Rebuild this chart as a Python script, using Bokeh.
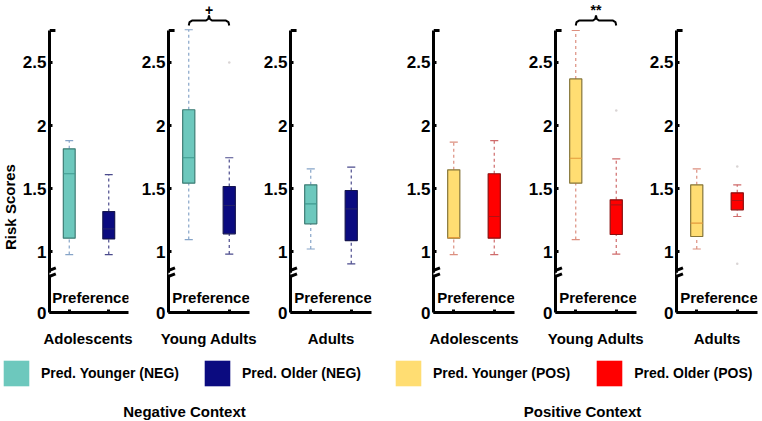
from bokeh.plotting import figure
from bokeh.layouts import row, column
from bokeh.models import (Range1d, FixedTicker, Legend, LegendItem, Arrow,
                          ColumnDataSource)
from bokeh.core.properties import value
from bokeh.embed import file_html
from bokeh.resources import INLINE

# ---------------- data ----------------
GROUPS = ["Adolescents", "Young Adults", "Adults"]
POSITIONS = [1, 2]  # Pred. Younger, Pred. Older within each panel
AXIS_LABEL = "Preference"
Y_LABEL = "Risk Scores"
Y_TICKS = [0.516, 1, 1.5, 2, 2.5]
Y_TICK_LABELS = ["0", "1", "1.5", "2", "2.5"]

NEG_YOUNGER_LO = [0.976, 1.095, 1.02]
NEG_YOUNGER_Q1 = [1.106, 1.542, 1.22]
NEG_YOUNGER_MED = [1.617, 1.744, 1.378]
NEG_YOUNGER_Q3 = [1.815, 2.125, 1.529]
NEG_YOUNGER_HI = [1.88, 2.76, 1.656]
NEG_YOUNGER_OUT = [[], [], []]

NEG_OLDER_LO = [0.976, 0.98, 0.902]
NEG_OLDER_Q1 = [1.10, 1.14, 1.087]
NEG_OLDER_MED = [1.18, 1.365, 1.339]
NEG_OLDER_Q3 = [1.317, 1.516, 1.484]
NEG_OLDER_HI = [1.61, 1.744, 1.669]
NEG_OLDER_OUT = [[], [2.5], []]

POS_YOUNGER_LO = [0.976, 1.095, 1.02]
POS_YOUNGER_Q1 = [1.106, 1.542, 1.119]
POS_YOUNGER_MED = [1.11, 1.74, 1.225]
POS_YOUNGER_Q3 = [1.648, 2.37, 1.529]
POS_YOUNGER_HI = [1.868, 2.754, 1.656]
POS_YOUNGER_OUT = [[], [], []]

POS_OLDER_LO = [0.976, 0.98, 1.278]
POS_OLDER_Q1 = [1.106, 1.135, 1.331]
POS_OLDER_MED = [1.278, 1.37, 1.405]
POS_OLDER_Q3 = [1.617, 1.41, 1.466]
POS_OLDER_HI = [1.88, 1.735, 1.529]
POS_OLDER_OUT = [[], [2.12], [1.675, 0.902]]

NEG_SIG = ["", "+", ""]
POS_SIG = ["", "**", ""]

LEGEND_NEG = ["Pred. Younger (NEG)", "Pred. Older (NEG)"]
LEGEND_POS = ["Pred. Younger (POS)", "Pred. Older (POS)"]
CONTEXT_TITLES = ["Negative Context", "Positive Context"]

# ---------------- styles / layout ----------------
FONT = "Liberation Sans"
STYLE = {
    "neg_y": dict(fill="#6dc8bd", edge="#3d7c74", med="#3f9a8f", whisk="#86a4c8"),
    "neg_o": dict(fill="#0b0b80", edge="#151550", med="#23236a", whisk="#4a4a8c"),
    "pos_y": dict(fill="#ffdd72", edge="#857539", med="#e39a3c", whisk="#dc8f7f"),
    "pos_o": dict(fill="#ff0000", edge="#8a0f0f", med="#b31212", whisk="#cf6b6b"),
}
BOX_W = 0.3
CAP_W = 0.2
FRAME_W = 81
FIG_H = 324
BOTTOM_BORDER = 12
LABEL_W = 19
WIDTHS = [111, 122, 143, 122, 121, 124]
LEFT_BORDERS = [28, 38, 38, 38, 38, 38]
Y_START, Y_END, Y_AXIS_TOP = 0.516, 2.992, 2.754


def draw_box(p, x, lo, q1, med, q3, hi, outs, st):
    src = ColumnDataSource(dict(x=[x], lo=[lo], q1=[q1], med=[med], q3=[q3], hi=[hi],
                                l=[x - BOX_W / 2], r=[x + BOX_W / 2],
                                cl=[x - CAP_W / 2], cr=[x + CAP_W / 2]))
    p.segment(x0="x", x1="x", y0="q3", y1="hi", source=src, line_color=st["whisk"],
              line_width=1.2, line_dash="3 3")
    p.segment(x0="x", x1="x", y0="lo", y1="q1", source=src, line_color=st["whisk"],
              line_width=1.2, line_dash="3 3")
    p.segment(x0="cl", x1="cr", y0="hi", y1="hi", source=src, line_color=st["whisk"], line_width=1.2)
    p.segment(x0="cl", x1="cr", y0="lo", y1="lo", source=src, line_color=st["whisk"], line_width=1.2)
    p.quad(left="l", right="r", bottom="q1", top="q3", source=src,
           fill_color=st["fill"], line_color=st["edge"], line_width=1.2)
    p.segment(x0="l", x1="r", y0="med", y1="med", source=src, line_color=st["med"], line_width=1.2)
    if outs:
        p.scatter(x=[x] * len(outs), y=outs, size=2.5, color="#d9d4d4", line_color=None)


def brace(p, x0, x1, y, label):
    xm = (x0 + x1) / 2
    xs = [x0, x0 + 0.02, x0 + 0.08, xm - 0.08, xm - 0.02, xm,
          xm + 0.02, xm + 0.08, x1 - 0.08, x1 - 0.02, x1]
    ys = [y - 0.04, y - 0.012, y, y, y + 0.012, y + 0.04,
          y + 0.012, y, y, y - 0.012, y - 0.04]
    p.line(xs, ys, line_color="black", line_width=2)
    p.text(x=[xm], y=[y + 0.085], text=[label], text_align="center",
           text_baseline="alphabetic", text_font=value(FONT), text_font_size="14px",
           text_font_style="bold", text_color="black")


def make_panel(i, data, st_y, st_o, sig):
    p = figure(width=WIDTHS[i], height=FIG_H, x_range=Range1d(0.5, 2.5),
               y_range=Range1d(Y_START, Y_END), output_backend="svg",
               toolbar_location=None, min_border_left=LEFT_BORDERS[i],
               min_border_right=WIDTHS[i] - LEFT_BORDERS[i] - FRAME_W,
               min_border_top=0, min_border_bottom=BOTTOM_BORDER)
    p.outline_line_color = None
    p.grid.visible = False
    p.background_fill_color = "white"
    p.border_fill_color = "white"

    ya = p.yaxis[0]
    ya.ticker = FixedTicker(ticks=Y_TICKS)
    ya.major_label_overrides = {t: s for t, s in zip(Y_TICKS, Y_TICK_LABELS)}
    ya.bounds = (Y_START, Y_AXIS_TOP)
    ya.axis_line_width = 3
    ya.major_tick_in = 3
    ya.major_tick_out = 0
    ya.major_tick_line_width = 3
    ya.minor_tick_line_color = None
    ya.major_label_standoff = 3
    ya.major_label_text_font = FONT
    ya.major_label_text_font_size = "17px"
    ya.major_label_text_font_style = "bold"
    ya.major_label_text_color = "black"

    xa = p.xaxis[0]
    xa.ticker = FixedTicker(ticks=POSITIONS)
    xa.major_label_overrides = {1: "", 2: ""}
    xa.major_label_text_font_size = "0px"
    xa.major_label_standoff = 0
    xa.axis_line_width = 3
    xa.major_tick_in = 3
    xa.major_tick_out = 0
    xa.major_tick_line_width = 3
    xa.minor_tick_line_color = None

    # top stub of the y axis
    p.segment(x0=[0.5], x1=[0.5 + 0.15], y0=[Y_AXIS_TOP], y1=[Y_AXIS_TOP],
              line_color="black", line_width=3)

    (ylo, yq1, ymed, yq3, yhi, yout), (olo, oq1, omed, oq3, ohi, oout) = data
    draw_box(p, POSITIONS[0], ylo, yq1, ymed, yq3, yhi, yout, st_y)
    draw_box(p, POSITIONS[1], olo, oq1, omed, oq3, ohi, oout, st_o)

    p.text(x=[1.55], y=[0.635], text=[AXIS_LABEL], text_align="center",
           text_baseline="middle", text_font=value(FONT), text_font_size="15px",
           text_font_style="bold", text_color="black")

    if sig:
        brace(p, POSITIONS[0], POSITIONS[1], 2.833, sig)

    # axis break mark
    yc = 0.81
    p.add_layout(Arrow(end=None, x_start=0.5, y_start=yc + 0.006, x_end=0.5, y_end=yc + 0.022,
                       line_color="white", line_width=5))
    p.add_layout(Arrow(end=None, x_start=0.27, y_start=yc + 0.012, x_end=0.66, y_end=yc + 0.06,
                       line_color="black", line_width=3))
    p.add_layout(Arrow(end=None, x_start=0.27, y_start=yc - 0.036, x_end=0.66, y_end=yc + 0.012,
                       line_color="black", line_width=3))
    return p


# narrow figure that carries the shared y-axis title
ylab = figure(width=LABEL_W, height=FIG_H, x_range=Range1d(0, LABEL_W),
              y_range=Range1d(Y_START, Y_END), x_axis_type=None, y_axis_type=None,
              output_backend="svg", toolbar_location=None, min_border_left=0,
              min_border_right=0, min_border_top=0, min_border_bottom=BOTTOM_BORDER)
ylab.outline_line_color = None
ylab.grid.visible = False
ylab.text(x=[9.5], y=[1.353], text=[Y_LABEL], angle=1.5708, text_align="center",
          text_baseline="middle", text_font=value(FONT), text_font_size="15px",
          text_font_style="bold", text_color="black")

panels = [ylab]
for i, g in enumerate(GROUPS):
    data = ((NEG_YOUNGER_LO[i], NEG_YOUNGER_Q1[i], NEG_YOUNGER_MED[i], NEG_YOUNGER_Q3[i],
             NEG_YOUNGER_HI[i], NEG_YOUNGER_OUT[i]),
            (NEG_OLDER_LO[i], NEG_OLDER_Q1[i], NEG_OLDER_MED[i], NEG_OLDER_Q3[i],
             NEG_OLDER_HI[i], NEG_OLDER_OUT[i]))
    panels.append(make_panel(i, data, STYLE["neg_y"], STYLE["neg_o"], NEG_SIG[i]))
for i, g in enumerate(GROUPS):
    data = ((POS_YOUNGER_LO[i], POS_YOUNGER_Q1[i], POS_YOUNGER_MED[i], POS_YOUNGER_Q3[i],
             POS_YOUNGER_HI[i], POS_YOUNGER_OUT[i]),
            (POS_OLDER_LO[i], POS_OLDER_Q1[i], POS_OLDER_MED[i], POS_OLDER_Q3[i],
             POS_OLDER_HI[i], POS_OLDER_OUT[i]))
    panels.append(make_panel(3 + i, data, STYLE["pos_y"], STYLE["pos_o"], POS_SIG[i]))

# ---------------- bottom: group names, legends and context titles ----------------
BOT_W, BOT_H = LABEL_W + sum(WIDTHS), 96
bot = figure(width=BOT_W, height=BOT_H, x_range=Range1d(0, BOT_W), y_range=Range1d(0, BOT_H),
             x_axis_type=None, y_axis_type=None, output_backend="svg", toolbar_location=None,
             min_border_left=0, min_border_right=0, min_border_top=0, min_border_bottom=0)
bot.outline_line_color = None
bot.grid.visible = False

# group names centred under each panel's frame
starts = [LABEL_W + sum(WIDTHS[:k]) for k in range(len(WIDTHS))]
centers = [s + lb + FRAME_W / 2 for s, lb in zip(starts, LEFT_BORDERS)]
bot.text(x=centers, y=[82] * 6, text=GROUPS + GROUPS, text_align="center",
         text_baseline="middle", text_font=value(FONT), text_font_size="15px",
         text_font_style="bold", text_color="black")


def swatch(color):
    # zero-size bar: only used to give the legend item its colour
    return bot.vbar(x=[0], top=[0], bottom=[0], width=0, fill_color=color, line_color=None)


def make_legend(labels, colors, loc, spacing):
    items = [LegendItem(label=l, renderers=[swatch(c)]) for l, c in zip(labels, colors)]
    return Legend(items=items, location=loc, orientation="horizontal", glyph_width=32,
                  glyph_height=32, label_standoff=9, spacing=spacing, padding=0, margin=0,
                  border_line_color=None, background_fill_alpha=0,
                  label_text_font=FONT, label_text_font_size="14px",
                  label_text_font_style="bold", label_text_color="black")


bot.add_layout(make_legend(LEGEND_NEG, [STYLE["neg_y"]["fill"], STYLE["neg_o"]["fill"]],
                           (0, 31), 22))
bot.add_layout(make_legend(LEGEND_POS, [STYLE["pos_y"]["fill"], STYLE["pos_o"]["fill"]],
                           (392, 31), 23))
bot.text(x=[184, 582], y=[9, 9], text=CONTEXT_TITLES, text_align="center",
         text_baseline="middle", text_font=value(FONT), text_font_size="15px",
         text_font_style="bold", text_color="black")

layout = column(row(*panels, spacing=0), bot, spacing=0)
open("out.html", "w").write(file_html(layout, INLINE))
